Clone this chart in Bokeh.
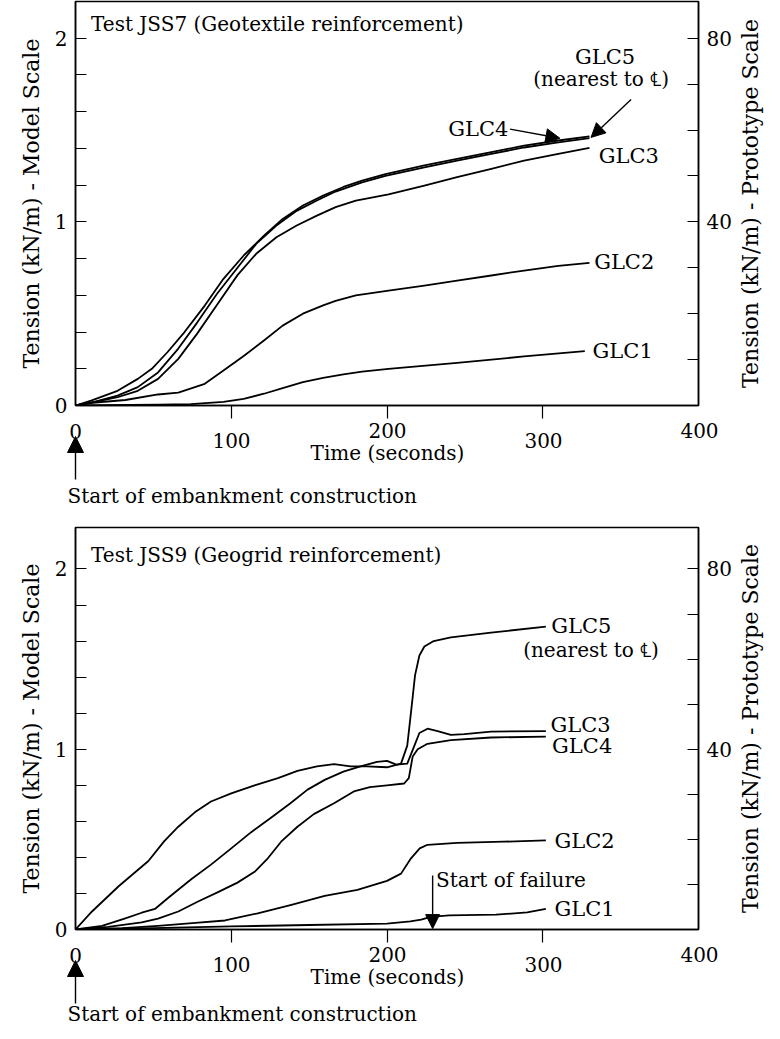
import math
from bokeh.plotting import figure
from bokeh.models import Range1d, LinearAxis, FixedTicker, Arrow, NormalHead
from bokeh.layouts import column, row
from bokeh.core.properties import value
from bokeh.embed import file_html
from bokeh.resources import INLINE

# ---------------- data: Test JSS7 (geotextile) ----------------
jss7_glc5_t = [0, 10, 27, 40, 49, 59, 70, 83, 95, 108, 121, 133, 146, 159, 172, 184, 199, 224, 245, 267, 288, 310, 330]
jss7_glc5_v = [0, 0.027, 0.08, 0.145, 0.2, 0.29, 0.40, 0.544, 0.69, 0.817, 0.925, 1.016, 1.089, 1.143, 1.19, 1.225, 1.26, 1.307, 1.343, 1.38, 1.415, 1.443, 1.466]
jss7_glc4_t = [0, 12, 27, 40, 53, 66, 78, 91, 104, 116, 129, 142, 155, 167, 184, 199, 224, 245, 267, 288, 310, 330]
jss7_glc4_v = [0, 0.02, 0.054, 0.10, 0.18, 0.31, 0.45, 0.61, 0.75, 0.88, 0.98, 1.06, 1.116, 1.165, 1.215, 1.25, 1.297, 1.333, 1.37, 1.405, 1.433, 1.456]
jss7_glc3_t = [0, 12, 27, 40, 53, 66, 78, 91, 104, 116, 129, 142, 155, 167, 180, 201, 224, 245, 267, 288, 310, 330]
jss7_glc3_v = [0, 0.018, 0.045, 0.08, 0.145, 0.254, 0.39, 0.55, 0.71, 0.826, 0.916, 0.98, 1.034, 1.08, 1.116, 1.15, 1.198, 1.243, 1.289, 1.334, 1.37, 1.403]
jss7_glc2_t = [0, 11, 32, 53, 66, 83, 95, 108, 121, 133, 146, 159, 167, 180, 201, 224, 245, 267, 288, 310, 330]
jss7_glc2_v = [0, 0.015, 0.03, 0.06, 0.07, 0.118, 0.19, 0.27, 0.354, 0.435, 0.5, 0.545, 0.57, 0.6, 0.626, 0.653, 0.68, 0.708, 0.735, 0.76, 0.777]
jss7_glc1_t = [0, 53, 74, 95, 108, 121, 133, 146, 159, 172, 184, 201, 245, 288, 327]
jss7_glc1_v = [0, 0.004, 0.008, 0.02, 0.036, 0.064, 0.094, 0.127, 0.15, 0.17, 0.185, 0.2, 0.232, 0.267, 0.296]

# ---------------- data: Test JSS9 (geogrid) ----------------
jss9_glc5_t = [0, 10.6, 27.7, 46.8, 57, 66, 76.6, 87, 100, 115, 130, 142.5, 155, 166, 176.6, 187, 200, 209, 213, 215.8, 218, 220.8, 224, 230, 241, 266.8, 302]
jss9_glc5_v = [0, 0.10, 0.24, 0.38, 0.49, 0.57, 0.65, 0.71, 0.755, 0.80, 0.84, 0.88, 0.905, 0.917, 0.905, 0.905, 0.90, 0.92, 1.02, 1.235, 1.41, 1.52, 1.57, 1.60, 1.62, 1.647, 1.68]
jss9_glc3_t = [0, 17, 32, 42.5, 51, 59.6, 74.5, 87, 100, 112.8, 125.5, 138, 149, 160, 172, 183, 193.6, 200, 206, 213, 217.6, 220.8, 226, 232.5, 241, 249.7, 266.8, 302]
jss9_glc3_v = [0, 0.02, 0.062, 0.093, 0.114, 0.176, 0.28, 0.36, 0.45, 0.54, 0.62, 0.70, 0.776, 0.83, 0.876, 0.905, 0.93, 0.935, 0.915, 0.92, 1.02, 1.09, 1.114, 1.10, 1.08, 1.084, 1.098, 1.10]
jss9_glc4_t = [0, 21, 42.5, 53, 66, 78.7, 91.5, 104, 115, 123, 132, 142.5, 153, 166, 178.7, 189, 200, 211, 214, 216.5, 219.7, 226, 241, 266.8, 302]
jss9_glc4_v = [0, 0.015, 0.04, 0.06, 0.10, 0.155, 0.207, 0.26, 0.32, 0.39, 0.487, 0.57, 0.64, 0.70, 0.766, 0.79, 0.80, 0.81, 0.84, 0.96, 1.0, 1.03, 1.05, 1.065, 1.07]
jss9_glc2_t = [0, 30, 53, 75, 96, 117, 138, 160, 181, 200, 209, 215, 221, 226, 245, 275, 302]
jss9_glc2_v = [0, 0.008, 0.02, 0.035, 0.05, 0.09, 0.135, 0.186, 0.22, 0.27, 0.31, 0.39, 0.45, 0.47, 0.48, 0.487, 0.494]
jss9_glc1_t = [0, 50, 100, 150, 200, 215, 222, 228, 240, 270, 290, 302]
jss9_glc1_v = [0, 0.008, 0.017, 0.025, 0.033, 0.045, 0.055, 0.07, 0.078, 0.082, 0.095, 0.114]

# tick labels / texts
x_tick_labels = ["0", "100", "200", "300", "400"]
x_tick_values = [0, 100, 200, 300, 400]
left_major_ticks = [0, 1, 2]
left_minor_ticks = [0.2, 0.4, 0.6, 0.8, 1.2, 1.4, 1.6, 1.8]
right_major_ticks = [40, 80]
right_minor_ticks = [10, 20, 30, 50, 60, 70]
PROTO_FACTOR = 40
LEFT_LABEL = "Tension (kN/m) - Model Scale"
RIGHT_LABEL = "Tension (kN/m) - Prototype Scale"

FONT_NAME = "DejaVu Serif"
FONT = value(FONT_NAME)
FS = "20px"
FS_GLC = "21px"
FS_AX = "22px"

PANEL_W = 734
SIDE_W = 30
ML, MR = 75, 35
FRAME_W = PANEL_W - ML - MR
PX_PER_S = FRAME_W / 400.0
BOTTOM_B = 14


def style_axis(ax):
    ax.major_label_text_font = FONT_NAME
    ax.major_label_text_font_size = FS
    ax.major_label_text_color = "black"
    ax.axis_label_text_font = FONT_NAME
    ax.axis_label_text_font_size = FS_AX
    ax.axis_label_text_font_style = "normal"
    ax.axis_label_text_color = "black"
    ax.axis_line_width = 1.5
    ax.axis_line_color = "black"
    ax.major_tick_line_width = 1.2
    ax.minor_tick_line_width = 1.2
    ax.major_tick_line_color = "black"
    ax.minor_tick_line_color = "black"


def no_align(f):
    try:
        f.frame_align = False
    except AttributeError:
        pass


def make_panel(frame_h, ymax):
    p = figure(width=PANEL_W, height=frame_h + 1 + BOTTOM_B,
               x_range=Range1d(0, 400), y_range=Range1d(0, ymax),
               output_backend="svg", toolbar_location=None,
               min_border_left=ML, min_border_right=MR,
               min_border_top=1, min_border_bottom=BOTTOM_B)
    no_align(p)
    p.xgrid.visible = False
    p.ygrid.visible = False
    p.outline_line_color = "black"
    p.outline_line_width = 1.5
    p.background_fill_color = "white"
    p.border_fill_color = "white"

    ax = p.yaxis[0]
    ax.ticker = FixedTicker(ticks=left_major_ticks, minor_ticks=left_minor_ticks)
    ax.major_tick_in = 11
    ax.major_tick_out = 0
    ax.minor_tick_in = 11
    ax.minor_tick_out = 0
    ax.major_label_standoff = 8
    ax.axis_label = LEFT_LABEL
    ax.axis_label_standoff = 8
    style_axis(ax)

    p.extra_y_ranges = {"proto": Range1d(0, ymax * PROTO_FACTOR)}
    rax = LinearAxis(y_range_name="proto")
    rax.ticker = FixedTicker(ticks=right_major_ticks, minor_ticks=right_minor_ticks)
    rax.major_tick_in = 11
    rax.major_tick_out = 0
    rax.minor_tick_in = 11
    rax.minor_tick_out = 0
    rax.major_label_standoff = 8
    style_axis(rax)
    p.add_layout(rax, "right")

    bx = p.xaxis[0]
    bx.ticker = FixedTicker(ticks=[100, 200, 300], minor_ticks=[])
    bx.major_tick_in = 0
    bx.major_tick_out = 13
    bx.minor_tick_in = 0
    bx.minor_tick_out = 0
    bx.major_label_overrides = {100: "", 200: "", 300: ""}
    style_axis(bx)
    bx.major_label_text_font_size = "0px"
    bx.major_label_standoff = 0
    return p


def add_text(p, x, y, text, align="left", size=FS, angle=0.0):
    p.text(x=x, y=y, text=text, text_font=FONT, text_font_size=size,
           text_align=align, text_baseline="middle", text_color="black", angle=angle)


def add_arrow(p, xs, ys, xe, ye, size=14):
    p.add_layout(Arrow(end=NormalHead(size=size, fill_color="black", line_color="black", line_width=1),
                       x_start=xs, y_start=ys, x_end=xe, y_end=ye,
                       line_color="black", line_width=1.4))


def bare(width, height, xr, yr):
    f = figure(width=width, height=height, x_range=xr, y_range=yr,
               output_backend="svg", toolbar_location=None,
               min_border=0, min_border_left=0, min_border_right=0,
               min_border_top=0, min_border_bottom=0,
               x_axis_type=None, y_axis_type=None)
    no_align(f)
    f.outline_line_color = None
    f.background_fill_color = "white"
    f.border_fill_color = "white"
    return f


def make_strip(h, label_y_pos):
    s = bare(PANEL_W, h, Range1d(-ML / PX_PER_S, 400 + MR / PX_PER_S),
             Range1d(-(BOTTOM_B + h), -BOTTOM_B))
    offs = [-26, -35, -25, -35, -25]
    for xv, lab, off in zip(x_tick_values, x_tick_labels, offs):
        add_text(s, [xv], [off], [lab], align="center")
    add_text(s, [200], [-47], ["Time (seconds)"], align="center")
    add_arrow(s, 0, -74, 0, -31, size=16)
    add_text(s, [-8 / PX_PER_S], [label_y_pos], ["Start of embankment construction"], align="left")
    return s


def make_side(h, frame_h):
    # rotated right-hand axis title, reading bottom to top
    r = bare(SIDE_W, h, Range1d(0, SIDE_W), Range1d(-h, 0))
    add_text(r, [16], [-(1 + frame_h / 2.0)], [RIGHT_LABEL], align="center", size=FS_AX,
             angle=math.pi / 2)
    return r


# ---------------- top panel ----------------
p1 = make_panel(404, 2.20)
for t, v in [(jss7_glc1_t, jss7_glc1_v), (jss7_glc2_t, jss7_glc2_v), (jss7_glc3_t, jss7_glc3_v),
             (jss7_glc4_t, jss7_glc4_v), (jss7_glc5_t, jss7_glc5_v)]:
    p1.line(t, v, line_color="black", line_width=1.8, line_join="round")
add_text(p1, [10], [2.08], ["Test JSS7 (Geotextile reinforcement)"])
add_text(p1, [332, 333, 336], [0.296, 0.78, 1.36], ["GLC1", "GLC2", "GLC3"], size=FS_GLC)
add_text(p1, [278], [1.506], ["GLC4"], align="right", size=FS_GLC)
add_text(p1, [340], [1.897], ["GLC5"], align="center", size=FS_GLC)
add_text(p1, [337.5], [1.78], ["(nearest to \u2104)"], align="center")
add_arrow(p1, 279, 1.505, 311, 1.455, size=14)
add_arrow(p1, 356.7, 1.666, 331, 1.46, size=14)

s1 = make_strip(107, -90)

# ---------------- bottom panel ----------------
p2 = make_panel(402, 2.23)
for t, v in [(jss9_glc1_t, jss9_glc1_v), (jss9_glc2_t, jss9_glc2_v), (jss9_glc3_t, jss9_glc3_v),
             (jss9_glc4_t, jss9_glc4_v), (jss9_glc5_t, jss9_glc5_v)]:
    p2.line(t, v, line_color="black", line_width=1.8, line_join="round")
add_text(p2, [10], [2.08], ["Test JSS9 (Geogrid reinforcement)"])
add_text(p2, [305.5, 305, 306, 307.5, 307.5], [1.686, 1.137, 1.02, 0.49, 0.114],
         ["GLC5", "GLC3", "GLC4", "GLC2", "GLC1"], size=FS_GLC)
add_text(p2, [331], [1.55], ["(nearest to \u2104)"], align="center")
add_text(p2, [231.5], [0.275], ["Start of failure"])
add_arrow(p2, 229.3, 0.30, 229.3, 0.005, size=14)

s2 = make_strip(82, -84)

r1 = make_side(p1.height + s1.height, 404)
r2 = make_side(p2.height + s2.height, 402)

layout = row(column(p1, s1, p2, s2, spacing=0), column(r1, r2, spacing=0), spacing=0)
open("out.html", "w").write(file_html(layout, INLINE))
